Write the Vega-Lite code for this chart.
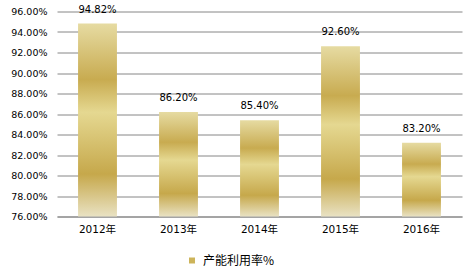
{
  "$schema": "https://vega.github.io/schema/vega-lite/v6.json",
  "width": 405,
  "height": 205,
  "autosize": {"type": "none"},
  "padding": {"left": 57, "top": 11.5, "right": 10, "bottom": 62},
  "background": "#ffffff",
  "data": {"values": [
    {"year": "2012年", "rate": 94.82, "series": "产能利用率%"},
    {"year": "2013年", "rate": 86.20, "series": "产能利用率%"},
    {"year": "2014年", "rate": 85.40, "series": "产能利用率%"},
    {"year": "2015年", "rate": 92.60, "series": "产能利用率%"},
    {"year": "2016年", "rate": 83.20, "series": "产能利用率%"}
  ]},
  "config": {
    "view": {"stroke": null},
    "font": "DejaVu Sans, Noto Sans CJK SC",
    "axis": {"labelFont": "DejaVu Sans, Noto Sans CJK SC", "labelColor": "#000000"},
    "legend": {"labelFont": "Noto Sans CJK SC"}
  },
  "encoding": {
    "x": {"field": "year", "type": "nominal", "sort": null,
      "scale": {"paddingInner": 0.52, "paddingOuter": 0.26},
      "axis": {"title": null, "labelAngle": 0, "ticks": false, "domain": true, "domainColor": "#868686", "labelPadding": 8, "labelFontSize": 10.5}},
    "y": {"field": "rate", "type": "quantitative",
      "scale": {"domain": [76, 96], "zero": false, "nice": false},
      "axis": {"title": null, "values": [76,78,80,82,84,86,88,90,92,94,96], "labelExpr": "format(datum.value, '.2f') + '%'", "ticks": false, "domain": false, "gridColor": "#868686", "gridWidth": 1, "labelPadding": 10, "labelFontSize": 9.5}}
  },
  "layer": [
    {
      "mark": {"type": "bar", "fill": {"gradient": "linear", "x1": 0, "y1": 0, "x2": 0, "y2": 1,
        "stops": [
          {"offset": 0, "color": "#e6dba2"},
          {"offset": 0.29, "color": "#c8ab50"},
          {"offset": 0.46, "color": "#e5d891"},
          {"offset": 0.78, "color": "#c6a84b"},
          {"offset": 1, "color": "#e9e2c3"}
        ]}},
      "encoding": {"y2": {"datum": 76}}
    },
    {
      "mark": {"type": "point", "shape": "square", "opacity": 0, "filled": true},
      "encoding": {
        "color": {"field": "series", "type": "nominal",
          "scale": {"range": ["#cdb45a"]},
          "legend": {"title": null, "orient": "none", "legendX": 129, "legendY": 243, "symbolType": "square", "symbolSize": 36, "symbolOpacity": 1, "labelFontSize": 12, "labelOffset": 5}}
      }
    },
    {
      "mark": {"type": "text", "baseline": "alphabetic", "dy": -11, "fontSize": 10, "color": "#000000", "text": {"expr": "format(datum.rate, '.2f') + '%'"}},
      "encoding": {"y": {"field": "rate", "type": "quantitative"}}
    }
  ]
}
